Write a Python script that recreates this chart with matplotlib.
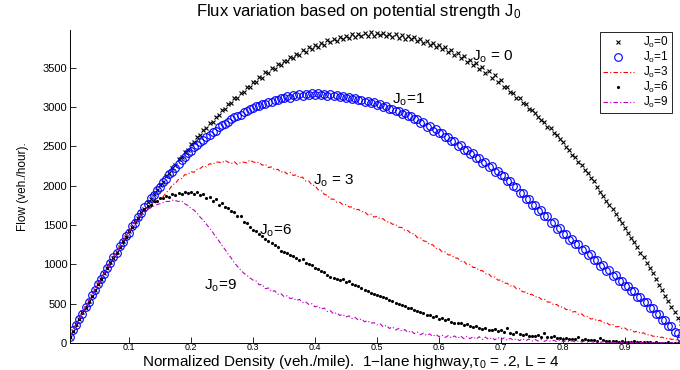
import numpy as np
import matplotlib
matplotlib.use("Agg")
import matplotlib.pyplot as plt

plt.rcParams['font.family'] = ['Liberation Sans', 'DejaVu Sans']
plt.rcParams['mathtext.fontset'] = 'custom'
plt.rcParams['mathtext.rm'] = 'Liberation Sans'
plt.rcParams['mathtext.it'] = 'Liberation Sans:italic'
plt.rcParams['mathtext.default'] = 'regular'

# normalized density grid (200 samples)
density = np.linspace(0.005, 1.0, 200)

# flow (veh./hour) for each potential strength J0
flow_j0 = [
    80, 150, 240, 300, 390, 450, 540, 600, 680, 750,
    810, 890, 950, 1030, 1085, 1160, 1215, 1295, 1345, 1420,
    1470, 1545, 1590, 1670, 1710, 1790, 1830, 1900, 1940, 2015,
    2050, 2125, 2160, 2230, 2260, 2335, 2360, 2430, 2455, 2530,
    2550, 2620, 2640, 2710, 2730, 2800, 2815, 2880, 2895, 2960,
    2975, 3040, 3050, 3110, 3120, 3185, 3190, 3250, 3255, 3315,
    3320, 3380, 3375, 3440, 3430, 3495, 3480, 3545, 3535, 3590,
    3580, 3640, 3625, 3680, 3665, 3720, 3700, 3760, 3740, 3790,
    3770, 3820, 3795, 3850, 3825, 3870, 3845, 3895, 3860, 3910,
    3880, 3925, 3890, 3935, 3900, 3945, 3905, 3950, 3910, 3945,
    3915, 3940, 3905, 3935, 3895, 3925, 3880, 3915, 3865, 3900,
    3870, 3885, 3845, 3860, 3820, 3845, 3790, 3820, 3760, 3790,
    3740, 3765, 3700, 3730, 3660, 3690, 3620, 3650, 3570, 3600,
    3530, 3560, 3480, 3510, 3430, 3460, 3375, 3410, 3320, 3350,
    3260, 3250, 3190, 3180, 3120, 3110, 3050, 3040, 2980, 2960,
    2920, 2880, 2840, 2810, 2750, 2730, 2670, 2640, 2590, 2560,
    2490, 2450, 2395, 2360, 2300, 2260, 2200, 2160, 2100, 2060,
    1980, 1920, 1870, 1810, 1760, 1700, 1640, 1580, 1520, 1460,
    1400, 1340, 1280, 1220, 1150, 1090, 1020, 960, 890, 820,
    740, 670, 600, 530, 460, 390, 320, 250, 180, 110]

flow_j1 = [
    70, 160, 230, 310, 375, 460, 525, 610, 670, 755,
    820, 880, 960, 1015, 1095, 1150, 1230, 1280, 1360, 1405,
    1485, 1530, 1605, 1650, 1725, 1765, 1840, 1880, 1950, 1985,
    2045, 2085, 2145, 2180, 2230, 2275, 2330, 2365, 2420, 2445,
    2495, 2515, 2560, 2580, 2625, 2650, 2685, 2700, 2745, 2770,
    2790, 2815, 2850, 2870, 2885, 2905, 2935, 2945, 2975, 2985,
    3010, 3015, 3040, 3045, 3070, 3065, 3095, 3090, 3120, 3110,
    3135, 3120, 3150, 3135, 3160, 3140, 3170, 3150, 3175, 3155,
    3175, 3150, 3170, 3145, 3165, 3140, 3155, 3130, 3145, 3120,
    3130, 3105, 3110, 3085, 3095, 3065, 3080, 3050, 3060, 3030,
    3035, 3005, 3010, 2975, 2980, 2945, 2950, 2915, 2920, 2885,
    2890, 2845, 2850, 2800, 2805, 2750, 2760, 2700, 2715, 2665,
    2670, 2615, 2620, 2565, 2570, 2510, 2515, 2455, 2460, 2405,
    2410, 2350, 2355, 2295, 2300, 2240, 2245, 2180, 2190, 2130,
    2125, 2060, 2055, 1990, 1985, 1905, 1910, 1830, 1835, 1760,
    1760, 1680, 1685, 1610, 1615, 1530, 1535, 1450, 1460, 1380,
    1385, 1315, 1320, 1255, 1260, 1185, 1195, 1125, 1130, 1055,
    1060, 985, 995, 920, 930, 855, 860, 785, 790, 720,
    725, 655, 660, 585, 590, 515, 520, 445, 450, 375,
    370, 295, 290, 215, 210, 140, 130, 65, 55, 20]

flow_j3 = [
    75, 155, 235, 305, 385, 455, 530, 605, 675, 745,
    820, 885, 955, 1025, 1090, 1155, 1225, 1285, 1355, 1410,
    1480, 1535, 1600, 1650, 1690, 1720, 1750, 1770, 1790, 1820,
    1860, 1910, 1950, 2010, 2030, 2080, 2090, 2140, 2140, 2180,
    2170, 2210, 2220, 2250, 2240, 2280, 2270, 2300, 2300, 2290,
    2320, 2300, 2280, 2305, 2270, 2295, 2300, 2290, 2325, 2305,
    2290, 2300, 2260, 2275, 2230, 2240, 2200, 2210, 2170, 2185,
    2150, 2170, 2130, 2140, 2100, 2110, 2060, 2060, 2010, 2000,
    1950, 1940, 1890, 1880, 1830, 1830, 1790, 1790, 1760, 1760,
    1730, 1730, 1690, 1700, 1670, 1670, 1630, 1640, 1600, 1610,
    1580, 1580, 1540, 1540, 1510, 1510, 1470, 1470, 1430, 1430,
    1390, 1390, 1340, 1340, 1300, 1290, 1250, 1250, 1200, 1200,
    1160, 1160, 1120, 1120, 1080, 1080, 1040, 1040, 1000, 1000,
    960, 960, 920, 920, 880, 880, 840, 840, 800, 800,
    760, 760, 725, 730, 690, 690, 650, 650, 615, 620,
    585, 590, 555, 560, 520, 520, 485, 490, 455, 460,
    425, 430, 395, 400, 365, 370, 335, 340, 305, 310,
    280, 290, 255, 260, 230, 240, 205, 210, 185, 190,
    160, 170, 140, 150, 120, 130, 100, 110, 85, 90,
    70, 75, 55, 60, 45, 50, 30, 35, 20, 15]

flow_j6 = [
    80, 150, 235, 310, 380, 460, 525, 600, 680, 745,
    815, 890, 950, 1020, 1095, 1150, 1220, 1290, 1350, 1420,
    1470, 1540, 1590, 1650, 1700, 1740, 1760, 1800, 1810, 1840,
    1850, 1870, 1860, 1890, 1880, 1910, 1900, 1920, 1905, 1925,
    1900, 1915, 1880, 1890, 1850, 1860, 1810, 1830, 1760, 1780,
    1730, 1720, 1680, 1670, 1620, 1610, 1540, 1530, 1470, 1440,
    1420, 1390, 1360, 1320, 1300, 1270, 1240, 1220, 1170, 1160,
    1140, 1120, 1110, 1080, 1060, 1070, 1020, 1010, 990, 960,
    940, 910, 900, 870, 840, 830, 820, 800, 810, 780,
    790, 750, 740, 730, 700, 680, 660, 640, 620, 610,
    600, 580, 575, 550, 530, 510, 500, 480, 470, 450,
    440, 420, 410, 390, 380, 360, 350, 330, 340, 310,
    320, 290, 300, 270, 260, 250, 260, 230, 240, 210,
    200, 210, 190, 180, 190, 170, 160, 175, 150, 160,
    140, 190, 130, 120, 140, 110, 100, 120, 95, 90,
    85, 100, 80, 130, 75, 70, 90, 60, 65, 55,
    60, 50, 55, 45, 70, 40, 45, 35, 40, 38,
    30, 60, 35, 25, 30, 20, 28, 18, 22, 15,
    15, 12, 25, 10, 12, 8, 15, 8, 6, 10,
    5, 6, 4, 12, 3, 4, 2, 5, 2, 1]

flow_j9 = [
    75, 155, 230, 305, 380, 455, 530, 600, 675, 745,
    815, 885, 950, 1020, 1085, 1155, 1220, 1285, 1350, 1410,
    1475, 1535, 1590, 1640, 1675, 1700, 1720, 1740, 1760, 1770,
    1785, 1800, 1800, 1815, 1810, 1800, 1805, 1770, 1750, 1710,
    1690, 1650, 1600, 1560, 1510, 1460, 1410, 1350, 1300, 1240,
    1190, 1130, 1080, 1020, 975, 930, 890, 860, 830, 800,
    790, 740, 745, 690, 700, 650, 665, 620, 630, 590,
    600, 565, 575, 540, 555, 515, 525, 490, 500, 460,
    470, 430, 445, 400, 410, 370, 385, 350, 365, 330,
    345, 310, 325, 290, 305, 270, 285, 250, 260, 230,
    245, 205, 225, 185, 205, 165, 185, 150, 170, 135,
    155, 120, 140, 105, 125, 95, 115, 85, 110, 80,
    100, 70, 95, 65, 90, 60, 90, 55, 85, 55,
    80, 50, 80, 45, 75, 45, 70, 40, 70, 40,
    65, 35, 60, 35, 55, 30, 55, 30, 50, 25,
    45, 25, 45, 20, 40, 20, 35, 18, 35, 15,
    30, 15, 28, 12, 25, 12, 22, 10, 20, 10,
    18, 8, 16, 8, 14, 6, 12, 6, 10, 5,
    9, 4, 8, 4, 7, 3, 6, 3, 5, 2,
    4, 2, 3, 2, 3, 1, 2, 1, 1, 1]

xticks = [0.1, 0.2, 0.3, 0.4, 0.5, 0.6, 0.7, 0.8, 0.9]
yticks = [0, 500, 1000, 1500, 2000, 2500, 3000, 3500]

dashdot = (0, (4, 2, 1, 2))

fig = plt.figure(figsize=(6.8, 3.7), dpi=100)
ax = fig.add_axes([70 / 680, 27 / 370, 617 / 680, 313 / 370])

ax.plot(density, flow_j0, 'x', color='k', ms=3.5, mew=0.8, label='$J_o$=0')
ax.plot(density, flow_j1, 'o', mfc='none', mec='b', ms=5.5, mew=0.8, label='$J_o$=1')
ax.plot(density, flow_j3, color='r', ls=dashdot, lw=0.8, label='$J_o$=3')
ax.plot(density, flow_j6, '.', color='k', ms=2.5, label='$J_o$=6')
ax.plot(density, flow_j9, color='m', ls=dashdot, lw=0.8, label='$J_o$=9')

ax.set_xlim(0.005, 1.0)
ax.set_ylim(0, 3980)
ax.set_xticks(xticks)
ax.set_xticklabels([str(t) for t in xticks])
ax.set_yticks(yticks)
ax.tick_params(direction='in', length=4, width=0.6, labelsize=8, pad=2)
ax.tick_params(axis='x', labelsize=6.5, pad=0)
for s in ['top', 'right']:
    ax.spines[s].set_visible(False)
for s in ['left', 'bottom']:
    ax.spines[s].set_linewidth(0.7)

ax.text(0.467, 1.045, 'Flux variation based on potential strength $J_0$',
        transform=ax.transAxes, ha='center', va='baseline', fontsize=12)
ax.set_xlabel('Normalized Density (veh./mile).  1\u2212lane highway,$\\tau_0$ = .2, L = 4',
              fontsize=11)
ax.xaxis.set_label_coords(0.455, -0.032)
ax.set_ylabel('Flow (veh./hour).', fontsize=8.5)
ax.yaxis.set_label_coords(-0.066, 0.5)

ax.text(0.653, 3636, '$J_o$ = 0', fontsize=11, va='center')
ax.text(0.524, 3089, '$J_o$=1', fontsize=11, va='center')
ax.text(0.397, 2060, '$J_o$ = 3', fontsize=11, va='center')
ax.text(0.310, 1424, '$J_o$=6', fontsize=11, va='center')
ax.text(0.221, 724, '$J_o$=9', fontsize=11, va='center')

leg = ax.legend(loc='upper right', bbox_to_anchor=(672 / 680, 338 / 370),
                bbox_transform=fig.transFigure, borderaxespad=0, fontsize=8.5,
                fancybox=False, framealpha=1, edgecolor='k', handlelength=2.6,
                labelspacing=0.0, borderpad=0.25, handletextpad=0.8)
leg.get_frame().set_linewidth(0.6)

fig.savefig('out.png', dpi=100)
